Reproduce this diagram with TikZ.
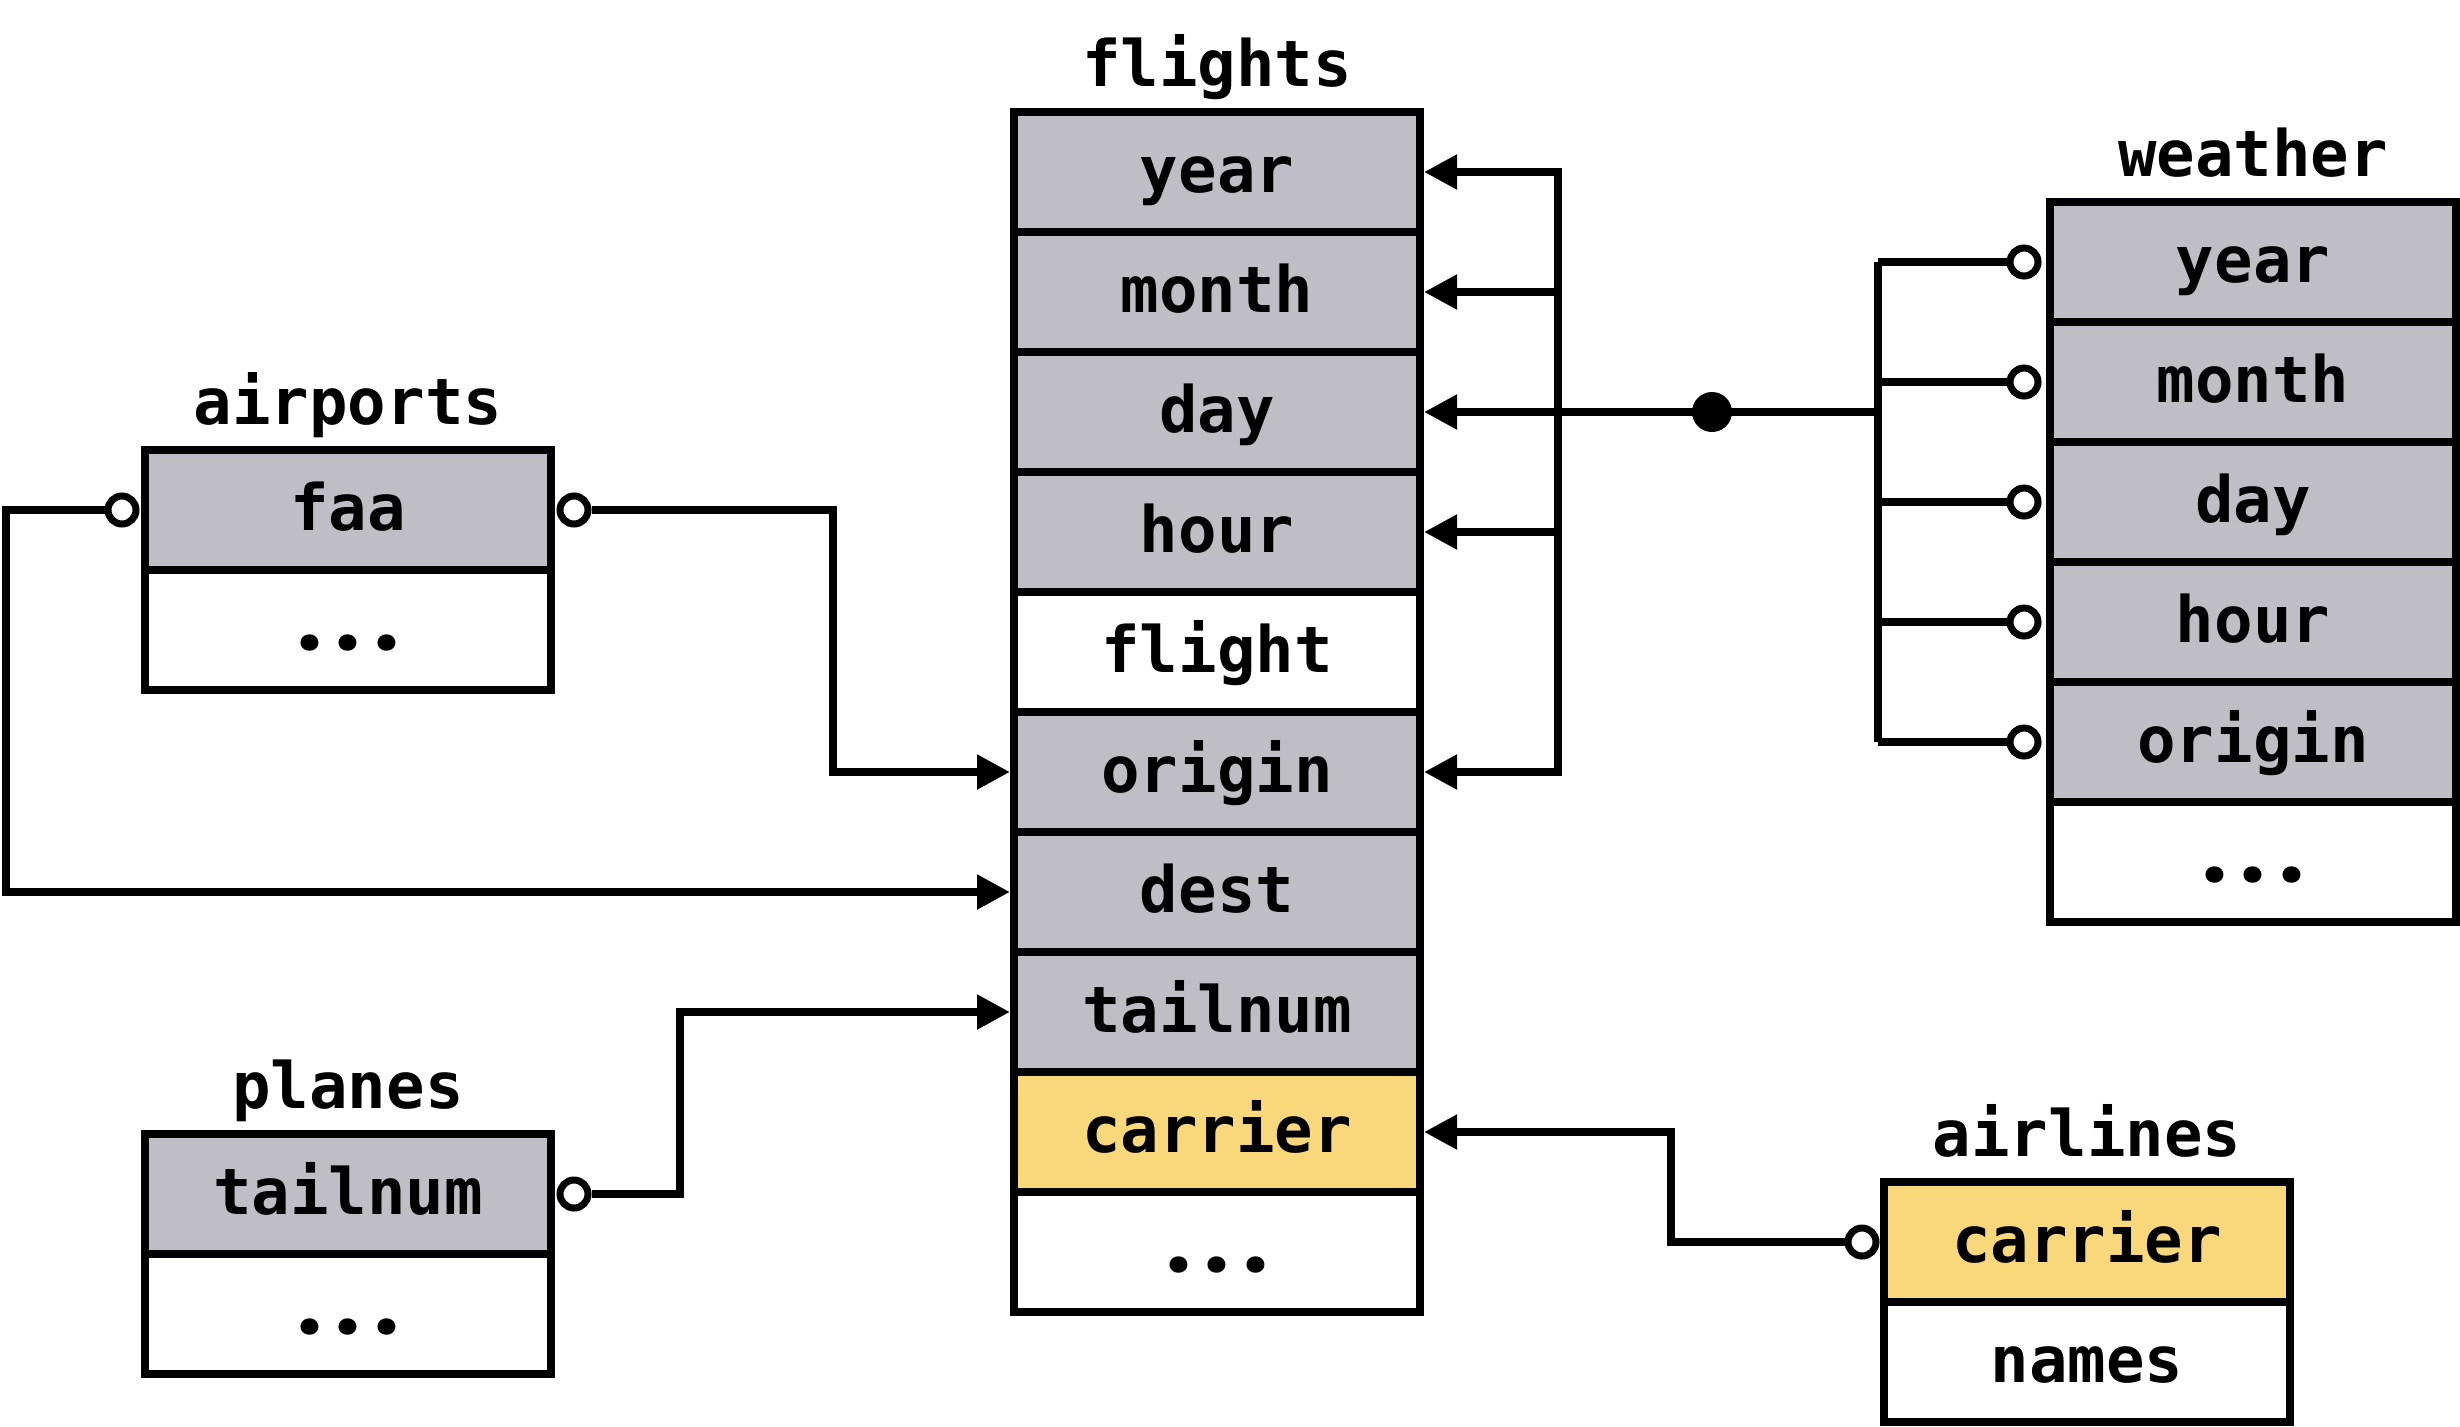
\documentclass[tikz,border=0pt]{standalone}
\usepackage{fontspec}
\setmonofont{DejaVu Sans Mono}
\newfontfamily\dotfont{Poppins}
\newcommand\onedot{\makebox[19.27pt]{{\dotfont\fontsize{44}{44}\selectfont .}}}
\newcommand\tabdots{\onedot\onedot\onedot}
\usetikzlibrary{arrows.meta,calc}
\definecolor{keygray}{RGB}{191,190,197}
\definecolor{keyyellow}{RGB}{248,216,122}
\begin{document}
\begin{tikzpicture}[x=0.5pt,y=-0.5pt,
  every node/.style={font=\ttfamily\bfseries\fontsize{32}{38}\selectfont},
  rowbox/.style={draw,line width=4pt,minimum width=203pt,minimum height=60pt,inner sep=0pt,text height=20pt,text depth=0pt,fill=white},
  keyrow/.style={rowbox,fill=keygray},
  yelrow/.style={rowbox,fill=keyyellow},
  tabtitle/.style={anchor=base,inner sep=0pt},
  keycirc/.style={circle,draw,line width=3.5pt,fill=white,minimum size=14pt,inner sep=0pt},
  joindot/.style={circle,fill=black,minimum size=20pt,inner sep=0pt},
  conn/.style={line width=4pt},
  arr/.style={conn,-{Triangle[length=16.5pt,width=16.5pt]}},
  arrboth/.style={conn,{Triangle[length=16.5pt,width=16.5pt]}-{Triangle[length=16.5pt,width=16.5pt]}}
]
\useasboundingbox (0,0) rectangle (2460,1426);

% flights
\node[tabtitle] (ftitle) at (1217,86) {flights};
\node[keyrow] (fyear)    at (1217,172)  {year};
\node[keyrow] (fmonth)   at (1217,292)  {month};
\node[keyrow] (fday)     at (1217,412)  {day};
\node[keyrow] (fhour)    at (1217,532)  {hour};
\node[rowbox] (fflight)  at (1217,652)  {flight};
\node[keyrow] (forigin)  at (1217,772)  {origin};
\node[keyrow] (fdest)    at (1217,892)  {dest};
\node[keyrow] (ftail)    at (1217,1012) {tailnum};
\node[yelrow] (fcarrier) at (1217,1132) {carrier};
\node[rowbox] (fmore)    at (1217,1252) {\tabdots};

% weather
\node[tabtitle] (wtitle) at (2253,176) {weather};
\node[keyrow] (wyear)   at (2253,262) {year};
\node[keyrow] (wmonth)  at (2253,382) {month};
\node[keyrow] (wday)    at (2253,502) {day};
\node[keyrow] (whour)   at (2253,622) {hour};
\node[keyrow] (worigin) at (2253,742) {origin};
\node[rowbox] (wmore)   at (2253,862) {\tabdots};

% airports
\node[tabtitle] (atitle) at (348,424) {airports};
\node[keyrow] (afaa)  at (348,510) {faa};
\node[rowbox] (amore) at (348,630) {\tabdots};

% planes
\node[tabtitle] (ptitle) at (348,1108) {planes};
\node[keyrow] (ptail) at (348,1194) {tailnum};
\node[rowbox] (pmore) at (348,1314) {\tabdots};

% airlines
\node[tabtitle] (ltitle) at (2087,1156) {airlines};
\node[yelrow] (lcarrier) at (2087,1242) {carrier};
\node[rowbox] (lnames)   at (2087,1362) {names};

% bend points
\coordinate (fbus) at (1558,172);
\coordinate (wbus) at (1878,262);
\coordinate (abend) at (833,510);
\coordinate (alft) at (6,510);
\coordinate (pbend) at (680,1194);
\coordinate (lbend) at (1671,1242);

% flights internal bus
\draw[arrboth] (forigin.east) -- (fbus |- forigin.east) -- (fbus |- fyear.east) -- (fyear.east);
\draw[arr] (fbus |- fmonth.east) -- (fmonth.east);
\draw[arr] (fbus |- fhour.east) -- (fhour.east);

% weather bus
\draw[conn] (wbus) -- (wbus |- worigin.west);
\draw[arr] (wbus |- fday.east) -- (fday.east);
\node[joindot] (jdot) at (1712,412) {};

% weather circles
\foreach \r in {wyear,wmonth,wday,whour,worigin}{
  \draw[conn] (wbus |- \r.west) -- ($(\r.west)+(-22,0)$);
  \node[keycirc] (c\r) at ($(\r.west)+(-22,0)$) {};
}

% airports
\node[keycirc] (ac1) at (122,510) {};
\node[keycirc] (ac2) at (574,510) {};
\draw[arr] (ac2.east) -- (abend) |- (forigin.west);
\draw[arr] (ac1.west) -- (alft) |- (fdest.west);

% planes
\node[keycirc] (pc) at (574,1194) {};
\draw[arr] (pc.east) -- (pbend) |- (ftail.west);

% airlines
\node[keycirc] (lc) at (1862,1242) {};
\draw[arr] (lc.west) -- (lbend) |- (fcarrier.east);
\end{tikzpicture}
\end{document}
